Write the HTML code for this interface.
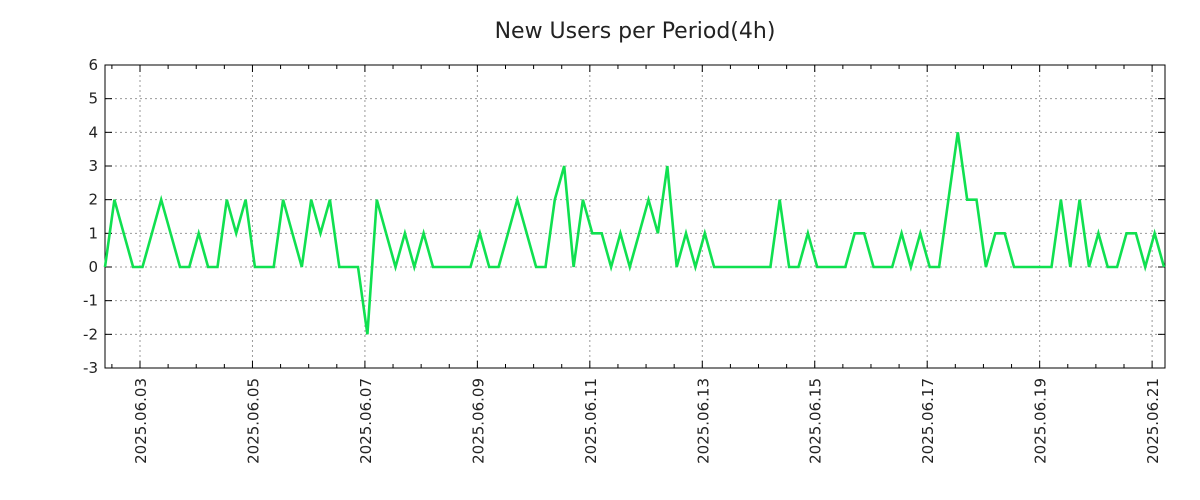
<!DOCTYPE html>
<html><head><meta charset="utf-8"><style>
html,body{margin:0;padding:0;background:#fff;width:1200px;height:500px;overflow:hidden}
svg{display:block;font-family:"DejaVu Sans","Liberation Sans",sans-serif}
</style></head><body>
<svg id="chart" width="1200" height="500" viewBox="0 0 1200 500">
<text x="635" y="38" font-size="22" text-anchor="middle" fill="#222">New Users per Period(4h)</text>
<g id="grid"></g>
<g id="axes"></g>
<g id="series"></g>
</svg>
<script>
// data: hours since 2025-06-02 00:00 of first sample; 4h periods
const startHour = 9.06;
const periodHours = 4;
const values = [0,2,1,0,0,1,2,1,0,0,1,0,0,2,1,2,0,0,0,2,1,0,2,1,2,0,0,0,-2,2,
1,0,1,0,1,0,0,0,0,0,1,0,0,1,2,1,0,0,2,3,0,2,1,1,0,1,0,1,2,1,
3,0,1,0,1,0,0,0,0,0,0,0,2,0,0,1,0,0,0,0,1,1,0,0,0,1,0,1,0,0,
2,4,2,2,0,1,1,0,0,0,0,0,2,0,2,0,1,0,0,1,1,0,1,0];
const yTicks = [-3,-2,-1,0,1,2,3,4,5,6];
const xTickLabels = ["2025.06.03","2025.06.05","2025.06.07","2025.06.09","2025.06.11","2025.06.13","2025.06.15","2025.06.17","2025.06.19","2025.06.21"];
const xTickHours = [24,72,120,168,216,264,312,360,408,456];

const L=105,R=1165,T=65,B=368;
const xMin=startHour, xMax=461.5, yMin=-3, yMax=6;
const X=h=>L+(h-xMin)/(xMax-xMin)*(R-L);
const Y=v=>B-(v-yMin)/(yMax-yMin)*(B-T);
const NS="http://www.w3.org/2000/svg";
function mk(tag,attrs,parent){const e=document.createElementNS(NS,tag);for(const k in attrs)e.setAttribute(k,attrs[k]);parent.appendChild(e);return e;}
const grid=document.getElementById('grid'),axes=document.getElementById('axes'),series=document.getElementById('series');

yTicks.forEach(v=>{
  const y=Y(v);
  if(v>yMin&&v<yMax){const g=mk('line',{x1:L,x2:R,y1:y,y2:y,stroke:'#999','stroke-width':1,'stroke-dasharray':'2,3'},grid);
  
  }
  const t1=mk('line',{x1:L,x2:L+7,y1:y,y2:y,stroke:'#000'},axes);
  
  
  const t2=mk('line',{x1:R-7,x2:R,y1:y,y2:y,stroke:'#000'},axes);
  
  
  const tx=mk('text',{x:98,y:y+5,'font-size':15,'text-anchor':'end',fill:'#222'},axes);
  tx.textContent=v;
  
  
});
xTickHours.forEach((h,i)=>{
  const x=X(h);
  const g=mk('line',{x1:x,x2:x,y1:T,y2:B,stroke:'#999','stroke-width':1,'stroke-dasharray':'2,3'},grid);
  
  
  const t=mk('line',{x1:x,x2:x,y1:B,y2:B-7,stroke:'#000'},axes);
  
  
  const t2=mk('line',{x1:x,x2:x,y1:T,y2:T+7,stroke:'#000'},axes);
  
  
  const tx=mk('text',{x:0,y:0,'font-size':15,'text-anchor':'end',fill:'#222',transform:`translate(${x+6},378) rotate(-90)`},axes);
  tx.textContent=xTickLabels[i];
  
  
});
for(let h=12;h<xMax;h+=12){
  if(h<xMin||h%48===24)continue;
  const x=X(h);
  const m=mk('line',{x1:x,x2:x,y1:B,y2:B-4,stroke:'#000'},axes);
  
  
  const m2=mk('line',{x1:x,x2:x,y1:T,y2:T+4,stroke:'#000'},axes);
  
  
}
const border=mk('rect',{x:L,y:T,width:R-L,height:B-T,fill:'none',stroke:'#000','stroke-width':1},axes);



const pts=values.map((v,i)=>X(startHour+i*periodHours).toFixed(1)+','+Y(v).toFixed(1)).join(' ');
const line=mk('polyline',{points:pts,fill:'none',stroke:'#10e050','stroke-width':2.6,'stroke-linejoin':'miter'},series);


</script>
</body></html>
